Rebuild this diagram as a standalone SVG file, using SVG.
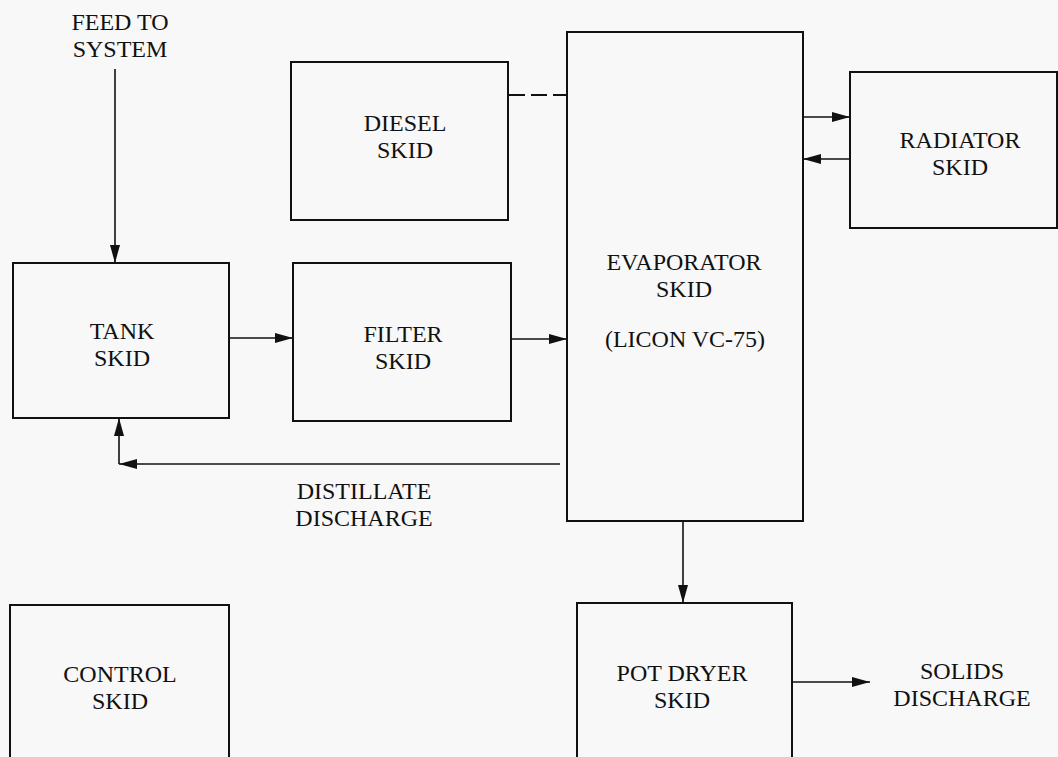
<svg xmlns="http://www.w3.org/2000/svg" width="1058" height="757" viewBox="0 0 1058 757">
<style>
.box{fill:none;stroke:#111;stroke-width:2}
.ln{fill:none;stroke:#111;stroke-width:1.6}
.dash{fill:none;stroke:#111;stroke-width:1.8;stroke-dasharray:16 6}
text{font-family:"Liberation Serif","Times New Roman",serif;font-size:24px;fill:#111;text-anchor:middle}
</style>
<defs>
<marker id="ah" markerUnits="userSpaceOnUse" markerWidth="18" markerHeight="12" refX="18" refY="6" orient="auto">
<path d="M0,1 L18,6 L0,11 z" fill="#111"/>
</marker>
</defs>
<rect width="1058" height="757" fill="#f8f8f8"/>
<g id="feed-label">
<text x="120" y="30">FEED TO<tspan x="120" y="57">SYSTEM</tspan></text>
</g>
<g id="diesel-skid">
<rect class="box" x="291" y="62" width="217" height="158"/>
<text x="405" y="131">DIESEL<tspan x="405" y="158">SKID</tspan></text>
</g>
<g id="evaporator-skid">
<rect class="box" x="567" y="32" width="236" height="489"/>
<text x="684" y="270">EVAPORATOR<tspan x="684" y="297">SKID</tspan></text>
<text x="685" y="347">(LICON VC-75)</text>
</g>
<g id="radiator-skid">
<rect class="box" x="850" y="72" width="207" height="156"/>
<text x="960" y="148">RADIATOR<tspan x="960" y="175">SKID</tspan></text>
</g>
<g id="tank-skid">
<rect class="box" x="13" y="263" width="216" height="155"/>
<text x="122" y="339">TANK<tspan x="122" y="366">SKID</tspan></text>
</g>
<g id="filter-skid">
<rect class="box" x="293" y="263" width="218" height="158"/>
<text x="403" y="342">FILTER<tspan x="403" y="369">SKID</tspan></text>
</g>
<g id="distillate-label">
<text x="364" y="499">DISTILLATE<tspan x="364" y="526">DISCHARGE</tspan></text>
</g>
<g id="control-skid">
<rect class="box" x="10" y="605" width="219" height="160"/>
<text x="120" y="682">CONTROL<tspan x="120" y="709">SKID</tspan></text>
</g>
<g id="pot-dryer-skid">
<rect class="box" x="577" y="603" width="215" height="162"/>
<text x="682" y="681">POT DRYER<tspan x="682" y="708">SKID</tspan></text>
</g>
<g id="solids-label">
<text x="962" y="679">SOLIDS<tspan x="962" y="706">DISCHARGE</tspan></text>
</g>
<g id="connectors">
<line class="ln" x1="115" y1="69" x2="115" y2="263" marker-end="url(#ah)"/>
<line class="dash" x1="509" y1="95" x2="567" y2="95"/>
<line class="ln" x1="803" y1="117" x2="850" y2="117" marker-end="url(#ah)"/>
<line class="ln" x1="850" y1="159" x2="803" y2="159" marker-end="url(#ah)"/>
<line class="ln" x1="229" y1="338" x2="293" y2="338" marker-end="url(#ah)"/>
<line class="ln" x1="511" y1="339" x2="567" y2="339" marker-end="url(#ah)"/>
<line class="ln" x1="560" y1="464" x2="119" y2="464" marker-end="url(#ah)"/>
<line class="ln" x1="119" y1="464" x2="119" y2="418" marker-end="url(#ah)"/>
<line class="ln" x1="683" y1="521" x2="683" y2="603" marker-end="url(#ah)"/>
<line class="ln" x1="792" y1="682" x2="870" y2="682" marker-end="url(#ah)"/>
</g>
</svg>
